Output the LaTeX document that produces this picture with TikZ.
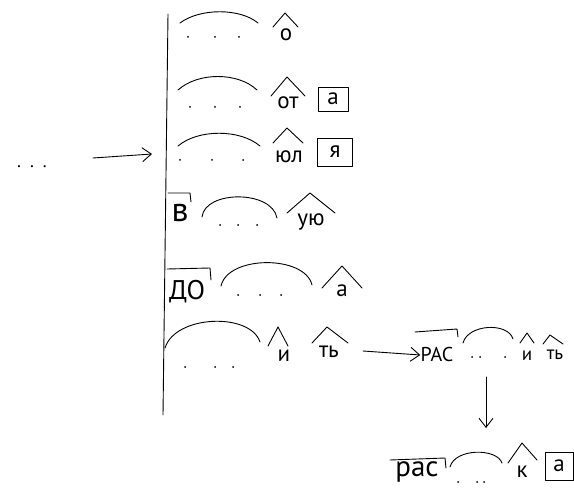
\documentclass[tikz,border=0pt]{standalone}
\usepackage{fontspec}
\setmainfont{PT Sans}
\usetikzlibrary{arrows.meta}
\begin{document}
\begin{tikzpicture}[x=1pt, y=-1pt, line width=0.9pt, line cap=round, line join=round,
  arr/.style={-{Straight Barb[length=9pt,width=14pt,line width=0.9pt]}},
  morph/.style={inner sep=0pt, font=\fontsize{23}{23}\selectfont},
  ending/.style={morph, draw, minimum width=30pt, minimum height=24pt}]
\useasboundingbox (0,0) rectangle (574,492);
\draw (168,14)--(163,415);
\node[morph, font=\fontsize{18}{18}\selectfont] (etc) at (32,167) {.\,\,\,.\,\,\,.};
\coordinate (L) at (93,158);
\coordinate (R) at (152,154);
\draw[arr] (L)--(R);
% row 1
\draw (180,23) .. controls (200,8) and (240,8) .. (258,23);
\foreach \x in {188,215,239} \fill (\x,37) circle (1pt);
\node[morph] (o) at (286,35) {о};
\draw (273,27)--(285,13)--(298,27);
% row 2
\draw (178,90) .. controls (198,72) and (238,72) .. (257,90);
\foreach \x in {190,215,240} \fill (\x,107) circle (1pt);
\node[morph] (ot) at (288,103) {от};
\draw (271,96)--(287,77)--(305,96);
\node[ending] (a1) at (333,99) {а};
% row 3
\draw (178,146) .. controls (198,129) and (240,129) .. (260,146);
\foreach \x in {180,212,243} \fill (\x,160) circle (1pt);
\node[morph] (yul) at (289,157) {юл};
\draw (273,143)--(287,128)--(303,143);
\node[ending, minimum width=35pt, minimum height=28pt] (ya) at (335,152) {я};
% row 4
\node[morph, font=\fontsize{34}{34}\selectfont] (v) at (180,213) {в};
\draw (168,193)--(190,193)--(191,202);
\draw (202,217) .. controls (205,190) and (272,190) .. (277,218);
\foreach \x in {220,238,257} \fill (\x,225) circle (1pt);
\node[morph] (uyu) at (311,222) {ую};
\draw (287,213)--(310,193)--(335,213);
% row 5
\node[morph, font=\fontsize{27}{27}\selectfont] (do) at (187,292) {ДО};
\draw (167,269)--(210,268)--(211,280);
\draw (221,286) .. controls (228,255) and (305,255) .. (312,285);
\foreach \x in {238,260,281} \fill (\x,295) circle (1pt);
\node[morph] (a2) at (342,291) {а};
\draw (322,288)--(342,266)--(362,288);
% row 6
\draw (165,348) .. controls (175,315) and (250,312) .. (260,342);
\foreach \x in {185,215,233} \fill (\x,367) circle (1pt);
\node[morph] (i1) at (284,356) {и};
\draw (268,346)--(278,327)--(288,346);
\node[morph] (ts1) at (329,352) {ть};
\node[morph, font=\fontsize{20}{20}\selectfont] (ras1) at (437,355) {РАС};
\coordinate (S) at (363,351);
\draw[arr] (S)--(ras1.west);
\draw (312,343)--(327,327)--(348,343);
\draw (415,332)--(457,329)--(458,337);
\draw (463,343) .. controls (468,324) and (508,322) .. (513,339);
\foreach \x in {472,480,505} \fill (\x,357) circle (1pt);
\node[morph, font=\fontsize{19}{19}\selectfont] (i2) at (527,356) {и};
\draw (520,343)--(527,333)--(534,343);
\node[morph, font=\fontsize{19}{19}\selectfont] (ts2) at (555,355) {ть};
\draw (543,344)--(550,335)--(563,344);
% derived word
\coordinate (D1) at (486,377);
\coordinate (D2) at (486,428);
\draw[arr] (D1)--(D2);
\node[morph, font=\fontsize{29}{29}\selectfont] (ras2) at (417,472) {рас};
\draw (390,460)--(445,458)--(446,468);
\draw (450,467) .. controls (455,448) and (497,448) .. (502,463);
\foreach \x in {458,477,484} \fill (\x,482) circle (1pt);
\node[morph] (k) at (522,472) {к};
\draw (508,463)--(522,443)--(537,460);
\node[ending, minimum width=28pt, minimum height=28pt] (a3) at (559,466) {а};
\end{tikzpicture}
\end{document}
